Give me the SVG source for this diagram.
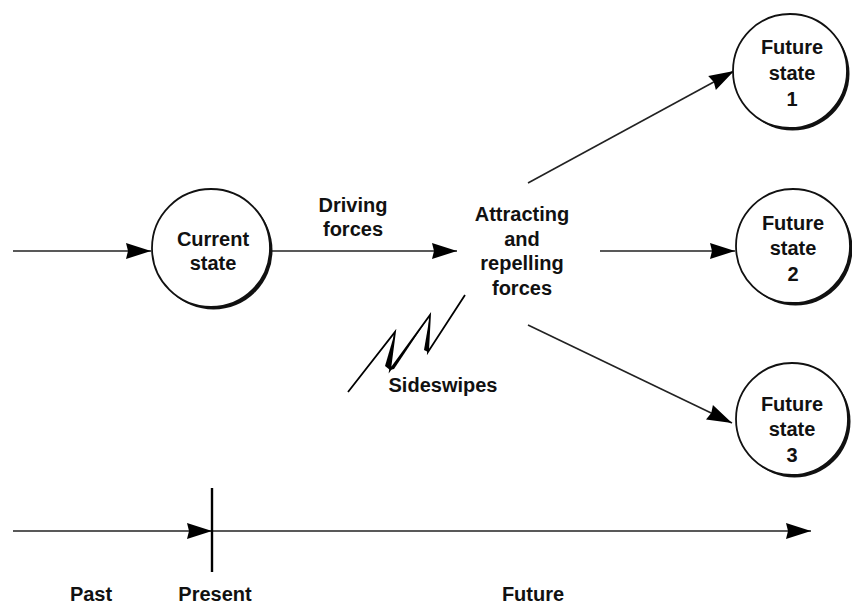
<svg xmlns="http://www.w3.org/2000/svg" width="852" height="610" viewBox="0 0 852 610">
<style>
.t{font-family:"Liberation Sans",Arial,Helvetica,sans-serif;font-weight:bold;font-size:20px;fill:#111;text-anchor:middle}
.ln{stroke:#222;stroke-width:1.6;fill:none}
.ring{fill:#fff;stroke:#111;stroke-width:1.8}
.shadow{fill:#111}
</style>
<defs>
<marker id="ah" markerUnits="userSpaceOnUse" markerWidth="28" markerHeight="20" viewBox="-26 -9 28 18" refX="0" refY="0" orient="auto">
<path d="M-25,-8 L0,0 L-25,8 L-23,0 z" fill="#000"/>
</marker>
</defs>
<rect width="852" height="610" fill="#fff"/>
<g id="connectors">
<line class="ln" x1="13" y1="251" x2="151" y2="251" marker-end="url(#ah)"/>
<line class="ln" x1="272" y1="251" x2="457" y2="251" marker-end="url(#ah)"/>
<line class="ln" x1="528" y1="183" x2="734" y2="71" marker-end="url(#ah)"/>
<line class="ln" x1="600" y1="251" x2="735" y2="251" marker-end="url(#ah)"/>
<line class="ln" x1="528" y1="325" x2="732" y2="423" marker-end="url(#ah)"/>
</g>
<g id="current">
<circle class="shadow" cx="213.5" cy="250.5" r="59"/>
<circle class="ring" cx="211" cy="248" r="59"/>
<text class="t" x="213" y="246">Current</text>
<text class="t" x="213" y="270">state</text>
</g>
<g id="driving-label">
<text class="t" x="353" y="212">Driving</text>
<text class="t" x="353" y="236">forces</text>
</g>
<g id="attracting">
<text class="t" x="522" y="221">Attracting</text>
<text class="t" x="522" y="246">and</text>
<text class="t" x="522" y="270">repelling</text>
<text class="t" x="522" y="295">forces</text>
</g>
<g id="sideswipes">
<polyline points="348,392 395,332 390,370 430,315 428,352 465,295" fill="none" stroke="#000" stroke-width="1.8" stroke-linejoin="miter" stroke-miterlimit="20"/>
<polygon points="395,332 390,370 385,366" fill="#000"/>
<polygon points="390,370 430,315 394,369" fill="#000"/>
<polygon points="430,315 428,352 424,350" fill="#000"/>
<text class="t" x="443" y="392">Sideswipes</text>
</g>
<g id="future1">
<circle class="shadow" cx="792.5" cy="73.5" r="57"/>
<circle class="ring" cx="790" cy="71" r="57"/>
<text class="t" x="792" y="54">Future</text>
<text class="t" x="792" y="80">state</text>
<text class="t" x="792" y="106">1</text>
</g>
<g id="future2">
<circle class="shadow" cx="795.5" cy="248.5" r="57"/>
<circle class="ring" cx="793" cy="246" r="57"/>
<text class="t" x="793" y="230">Future</text>
<text class="t" x="793" y="255">state</text>
<text class="t" x="793" y="281">2</text>
</g>
<g id="future3">
<circle class="shadow" cx="794.5" cy="421.5" r="56"/>
<circle class="ring" cx="792" cy="419" r="56"/>
<text class="t" x="792" y="411">Future</text>
<text class="t" x="792" y="436">state</text>
<text class="t" x="792" y="462">3</text>
</g>
<g id="timeline">
<line class="ln" x1="13" y1="531" x2="212" y2="531" marker-end="url(#ah)"/>
<line class="ln" x1="212" y1="531" x2="811" y2="531" marker-end="url(#ah)"/>
<line x1="212" y1="488" x2="212" y2="572" stroke="#000" stroke-width="2.4"/>
<text class="t" x="91" y="601">Past</text>
<text class="t" x="215" y="601">Present</text>
<text class="t" x="533" y="601">Future</text>
</g>
</svg>
